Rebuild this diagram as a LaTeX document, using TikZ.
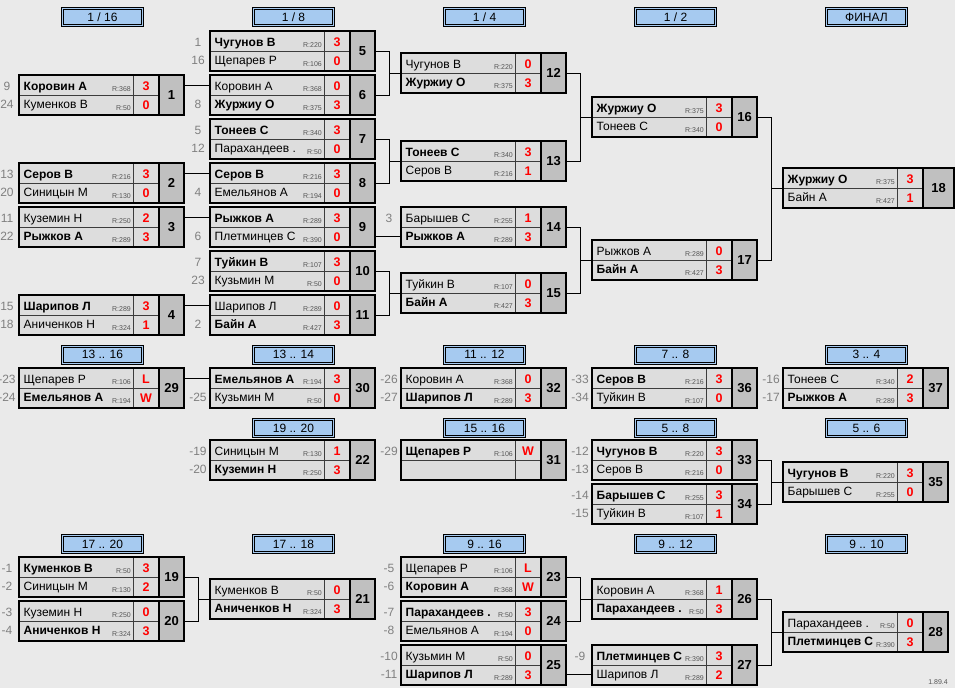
\documentclass[tikz,border=0pt]{standalone}
\usepackage{fontspec}
\setmainfont{Liberation Sans}
\definecolor{bgc}{RGB}{234,234,234}
\definecolor{cellc}{RGB}{221,221,221}
\definecolor{numc}{RGB}{192,192,192}
\definecolor{hdrblue}{RGB}{166,202,240}
\definecolor{seedc}{RGB}{128,128,128}
\definecolor{scorec}{RGB}{255,0,0}
\definecolor{ratec}{RGB}{85,85,85}
\definecolor{divc}{RGB}{60,60,60}
\tikzset{
  conn/.style={draw=black, line width=0.9pt},
  namest/.style={inner sep=0, anchor=base west, font=\fontsize{12}{14}\selectfont},
  ratest/.style={inner sep=0, anchor=base east, text=ratec, font=\fontsize{7}{8}\selectfont},
  scorest/.style={inner sep=0, anchor=base, text=scorec, font=\bfseries\fontsize{12.5}{14}\selectfont},
  numst/.style={inner sep=0, font=\bfseries\fontsize{13}{15}\selectfont},
  seedst/.style={inner sep=0, anchor=base, text=seedc, font=\fontsize{12}{14}\selectfont},
  hdrst/.style={draw=black, line width=0.8pt, double=hdrblue, double distance=1.2pt, fill=hdrblue, minimum width=80.5pt, minimum height=17pt, inner sep=0, font=\fontsize{12}{14}\selectfont},
  verst/.style={inner sep=0, text=ratec, font=\fontsize{7}{8}\selectfont},
}
\def\numw{25}
\newcommand{\rt}[1]{\if\relax\detokenize{#1}\relax\else R:#1\fi}
\newcommand{\match}[9]{%
  \fill[cellc] (#2,#3) rectangle ++(140,40);
  \fill[numc] (#2+140,#3) rectangle ++(\numw,40);
  \draw[divc, line width=0.8pt] (#2+114,#3) -- ++(0,40);
  \draw[divc, line width=0.8pt] (#2,#3+20) -- ++(140,0);
  \draw[line width=2.5pt] (#2+140,#3) -- ++(0,40);
  \node[draw, line width=2.5pt, inner sep=0, outer sep=0, anchor=north west, minimum width={140pt+\numw pt}, minimum height=40pt] (m#1) at (#2,#3) {};
  \node[namest] (m#1p) at (#2+4.5,#3+15) {#4};
  \node[ratest] (m#1r) at (#2+112,#3+16.5) {\rt{#5}};
  \node[scorest] (m#1s) at (#2+127,#3+15.5) {#6};
  \node[namest] (m#1q) at (#2+4.5,#3+33.5) {#7};
  \node[ratest] (m#1t) at (#2+112,#3+35.5) {\rt{#8}};
  \node[scorest] (m#1u) at (#2+127,#3+34) {#9};
  \node[numst] (m#1n) at (#2+140+\numw/2,#3+20) {#1};
  \coordinate (m#1a) at (#2,#3+10.5);
  \coordinate (m#1b) at (#2,#3+29.5);
}
\newcommand{\hdr}[4]{\node[hdrst] (#1) at (#2+83.5,#3+9.75) {#4};}
\newcommand{\sda}[4]{\node[seedst] (s#1a) at (#2-12,#3+15) {#4};}
\newcommand{\sdb}[4]{\node[seedst] (s#1b) at (#2-12,#3+33.5) {#4};}
\newcommand{\brk}[3]{%
  \draw[conn] (m#1.east) -| ([xshift=-12pt]m#3.west) -- (m#3.west);
  \draw[conn] (m#2.east) -| ([xshift=-12pt]m#3.west);
}
\begin{document}
\begin{tikzpicture}[x=1pt, y=-1pt]
\fill[bgc] (0,0) rectangle (955,688);
\useasboundingbox (0,0) rectangle (955,688);

% headers
\hdr{h1}{19}{7.5}{1 / 16}
\hdr{h2}{210}{7.5}{1 / 8}
\hdr{h3}{401}{7.5}{1 / 4}
\hdr{h4}{592}{7.5}{1 / 2}
\hdr{h5}{783}{7.5}{ФИНАЛ}
\hdr{h6}{19}{345}{13 .. 16}
\hdr{h7}{210}{345}{13 .. 14}
\hdr{h8}{401}{345}{11 .. 12}
\hdr{h9}{592}{345}{7 .. 8}
\hdr{h10}{783}{345}{3 .. 4}
\hdr{h11}{210}{418.5}{19 .. 20}
\hdr{h12}{401}{418.5}{15 .. 16}
\hdr{h13}{592}{418.5}{5 .. 8}
\hdr{h14}{783}{418.5}{5 .. 6}
\hdr{h15}{19}{534.5}{17 .. 20}
\hdr{h16}{210}{534.5}{17 .. 18}
\hdr{h17}{401}{534.5}{9 .. 16}
\hdr{h18}{592}{534.5}{9 .. 12}
\hdr{h19}{783}{534.5}{9 .. 10}

% 1/16
\match{1}{19}{75}{\bfseries Коровин А}{368}{3}{Куменков В}{50}{0}
\sda{1}{19}{75}{9}\sdb{1}{19}{75}{24}
\match{2}{19}{163}{\bfseries Серов В}{216}{3}{Синицын М}{130}{0}
\sda{2}{19}{163}{13}\sdb{2}{19}{163}{20}
\match{3}{19}{207}{Куземин Н}{250}{2}{\bfseries Рыжков А}{289}{3}
\sda{3}{19}{207}{11}\sdb{3}{19}{207}{22}
\match{4}{19}{295}{\bfseries Шарипов Л}{289}{3}{Аниченков Н}{324}{1}
\sda{4}{19}{295}{15}\sdb{4}{19}{295}{18}

% 1/8
\match{5}{210}{31}{\bfseries Чугунов В}{220}{3}{Щепарев Р}{106}{0}
\sda{5}{210}{31}{1}\sdb{5}{210}{31}{16}
\match{6}{210}{75}{Коровин А}{368}{0}{\bfseries Журжиу О}{375}{3}
\sdb{6}{210}{75}{8}
\match{7}{210}{119}{\bfseries Тонеев С}{340}{3}{Парахандеев .}{50}{0}
\sda{7}{210}{119}{5}\sdb{7}{210}{119}{12}
\match{8}{210}{163}{\bfseries Серов В}{216}{3}{Емельянов А}{194}{0}
\sdb{8}{210}{163}{4}
\match{9}{210}{207}{\bfseries Рыжков А}{289}{3}{Плетминцев С}{390}{0}
\sdb{9}{210}{207}{6}
\match{10}{210}{251}{\bfseries Туйкин В}{107}{3}{Кузьмин М}{50}{0}
\sda{10}{210}{251}{7}\sdb{10}{210}{251}{23}
\match{11}{210}{295}{Шарипов Л}{289}{0}{\bfseries Байн А}{427}{3}
\sdb{11}{210}{295}{2}

% 1/4
\match{12}{401}{53}{Чугунов В}{220}{0}{\bfseries Журжиу О}{375}{3}
\match{13}{401}{141}{\bfseries Тонеев С}{340}{3}{Серов В}{216}{1}
\match{14}{401}{207}{Барышев С}{255}{1}{\bfseries Рыжков А}{289}{3}
\sda{14}{401}{207}{3}
\match{15}{401}{273}{Туйкин В}{107}{0}{\bfseries Байн А}{427}{3}

% 1/2
\match{16}{592}{97}{\bfseries Журжиу О}{375}{3}{Тонеев С}{340}{0}
\match{17}{592}{240}{Рыжков А}{289}{0}{\bfseries Байн А}{427}{3}

% final
\def\numw{31}
\match{18}{783}{168}{\bfseries Журжиу О}{375}{3}{Байн А}{427}{1}
\def\numw{25}

% middle rows
\match{29}{19}{368}{Щепарев Р}{106}{L}{\bfseries Емельянов А}{194}{W}
\sda{29}{19}{368}{-23}\sdb{29}{19}{368}{-24}
\match{30}{210}{368}{\bfseries Емельянов А}{194}{3}{Кузьмин М}{50}{0}
\sdb{30}{210}{368}{-25}
\match{32}{401}{368}{Коровин А}{368}{0}{\bfseries Шарипов Л}{289}{3}
\sda{32}{401}{368}{-26}\sdb{32}{401}{368}{-27}
\match{36}{592}{368}{\bfseries Серов В}{216}{3}{Туйкин В}{107}{0}
\sda{36}{592}{368}{-33}\sdb{36}{592}{368}{-34}
\match{37}{783}{368}{Тонеев С}{340}{2}{\bfseries Рыжков А}{289}{3}
\sda{37}{783}{368}{-16}\sdb{37}{783}{368}{-17}

\match{22}{210}{440}{Синицын М}{130}{1}{\bfseries Куземин Н}{250}{3}
\sda{22}{210}{440}{-19}\sdb{22}{210}{440}{-20}
\match{31}{401}{440}{\bfseries Щепарев Р}{106}{W}{}{}{}
\sda{31}{401}{440}{-29}
\match{33}{592}{440}{\bfseries Чугунов В}{220}{3}{Серов В}{216}{0}
\sda{33}{592}{440}{-12}\sdb{33}{592}{440}{-13}
\match{34}{592}{484}{\bfseries Барышев С}{255}{3}{Туйкин В}{107}{1}
\sda{34}{592}{484}{-14}\sdb{34}{592}{484}{-15}
\match{35}{783}{462}{\bfseries Чугунов В}{220}{3}{Барышев С}{255}{0}

% bottom
\match{19}{19}{557}{\bfseries Куменков В}{50}{3}{Синицын М}{130}{2}
\sda{19}{19}{557}{-1}\sdb{19}{19}{557}{-2}
\match{20}{19}{601}{Куземин Н}{250}{0}{\bfseries Аниченков Н}{324}{3}
\sda{20}{19}{601}{-3}\sdb{20}{19}{601}{-4}
\match{21}{210}{579}{Куменков В}{50}{0}{\bfseries Аниченков Н}{324}{3}
\match{23}{401}{557}{Щепарев Р}{106}{L}{\bfseries Коровин А}{368}{W}
\sda{23}{401}{557}{-5}\sdb{23}{401}{557}{-6}
\match{24}{401}{601}{\bfseries Парахандеев .}{50}{3}{Емельянов А}{194}{0}
\sda{24}{401}{601}{-7}\sdb{24}{401}{601}{-8}
\match{25}{401}{645}{Кузьмин М}{50}{0}{\bfseries Шарипов Л}{289}{3}
\sda{25}{401}{645}{-10}\sdb{25}{401}{645}{-11}
\match{26}{592}{579}{Коровин А}{368}{1}{\bfseries Парахандеев .}{50}{3}
\match{27}{592}{645}{\bfseries Плетминцев С}{390}{3}{Шарипов Л}{289}{2}
\sda{27}{592}{645}{-9}
\match{28}{783}{612}{Парахандеев .}{50}{0}{\bfseries Плетминцев С}{390}{3}

% connectors
\draw[conn] (m1.east |- m6a) -- (m6a);
\draw[conn] (m2.east |- m8a) -- (m8a);
\draw[conn] (m3.east |- m9a) -- (m9a);
\draw[conn] (m4.east |- m11a) -- (m11a);
\draw[conn] (m9.east |- m14b) -- (m14b);
\draw[conn] (m29.east |- m30a) -- (m30a);
\draw[conn] (m25.east |- m27b) -- (m27b);
\brk{5}{6}{12}
\brk{7}{8}{13}
\brk{10}{11}{15}
\brk{12}{13}{16}
\brk{14}{15}{17}
\brk{16}{17}{18}
\brk{33}{34}{35}
\brk{19}{20}{21}
\brk{23}{24}{26}
\brk{26}{27}{28}

\node[verst] (ver) at (938,682) {1.89.4};
\end{tikzpicture}
\end{document}
